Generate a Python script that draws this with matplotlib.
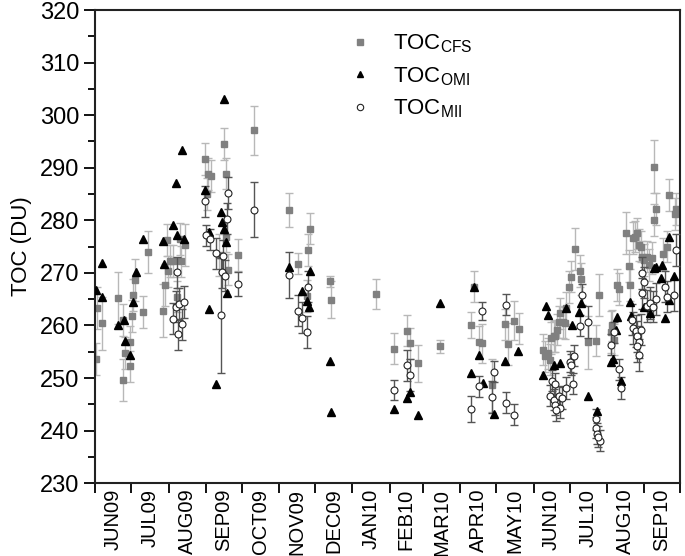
import numpy as np
import matplotlib
matplotlib.use("Agg")
import matplotlib.pyplot as plt
from matplotlib.lines import Line2D
from matplotlib.ticker import FixedLocator, MultipleLocator, NullFormatter

plt.rcParams['font.family'] = ['Liberation Sans', 'DejaVu Sans']
plt.rcParams['mathtext.default'] = 'regular'

# x values: days since 2009-06-01
cfs_day = [0.4, 1.5, 5.2, 19, 23.2, 23.2, 24.6, 28.8, 28.8, 30.2, 31, 33, 39.9, 43.5,
           56, 58, 59.4, 60.2, 62.1, 64.9, 68.2, 70.5, 71, 74.6,
           91.3, 92.7, 94.1, 96.1, 103, 107.4, 108.6, 108.8, 110.3, 119.1,
           132.4, 161.1, 169.1, 176.1, 177.2, 179.1, 195.6, 196.2, 233.7,
           249, 259.5, 261.7, 269, 287.3,
           315.1, 313.2, 319.8, 322.3, 330.4, 341.5, 348.8, 352.6, 343.4,
           372.6, 374.9, 376.8, 378.5, 379.6, 381.8, 383.2, 384.6, 386, 387.4, 389.6, 391.5, 392.4,
           394.9, 396.6, 399.9, 403.5, 404.9, 410.2, 417.2, 419.3,
           429.1, 430.5, 431.8, 434.7, 436, 442.4, 444.3, 445.7, 448, 449.9, 451.3, 452.7, 454.1, 455.5,
           456.9, 459.7, 461, 463.9, 465.2, 465.2, 466.6, 472.7, 476.4, 477.7, 482.5, 483.3]
cfs_toc = [253.6, 263.3, 260.4, 265.2, 249.7, 261, 254.8, 252.2, 256.9, 261.8, 265.8, 268.7, 262.6, 274,
           262.8, 267.7, 276.3, 270.3, 272.3, 272.3, 265.5, 276.4, 272.2, 275.3,
           291.7, 285, 288.8, 288.4, 273.4, 294.5, 288.9, 276.9, 270.6, 273.4,
           297.1, 281.9, 271.7, 265.6, 274.4, 278.4, 268.4, 264.9, 266,
           255.6, 259, 256.6, 252.8, 256,
           267.4, 260.1, 256.9, 256.6, 248.6, 260.2, 260.9, 259.4, 256.4,
           255.4, 254.1, 254.7, 253.5, 257.6, 257.9, 258, 259.2, 260.7, 262.3, 260.6, 260.5, 263.3,
           267.3, 269.3, 274.5, 270.4, 268.8, 256.8, 257.1, 265.8,
           258.7, 260, 257.3, 267.7, 266.9, 277.5, 271.3, 267.7, 276.6, 276.9, 277.5, 275.3, 275, 273.1,
           272.5, 273.1, 271.5, 272.8, 290.2, 280.1, 282.1, 273.6, 275, 284.8, 281.2, 282.1]
cfs_err = [3, 4, 5, 5, 4, 3, 3, 3, 3, 3, 3, 4, 3, 4,
           5, 4, 3, 3, 3, 3, 3, 3, 3, 4,
           3, 3, 3, 3, 4, 3, 3, 3, 3, 3,
           4.6, 3.2, 2, 3, 3, 3, 1, 3.5, 2.9,
           3, 3, 3, 3.5, 1.3,
           3, 2.5, 3, 3.7, 5, 3, 3.7, 3, 4,
           3, 3, 3, 3, 3, 3, 3, 3, 3, 3, 3, 3, 3,
           3, 3, 4, 3, 3, 5, 3, 4,
           4, 3, 3, 3, 3, 4, 3, 3, 3, 3, 3, 3, 3, 3,
           3, 3, 3, 3, 5, 3, 3, 3, 3, 3, 3, 3]

omi_day = [0.4, 5.2, 5.7, 19, 23.8, 24.6, 28.8, 31.5, 33.8, 39.9,
           56, 57.1, 64.9, 67.1, 68.2, 72.4, 74.1,
           91.3, 94.7, 94.9, 100.2, 107.4, 104.4, 105.3, 107.4, 108.8, 109.9,
           161.1, 172, 176.4, 177.5, 179.1, 195, 196.2,
           249, 259.5, 261.7, 269, 287.3,
           315.1, 319.2, 313.2, 322.6, 332.4, 341.5, 352.1,
           372.6, 375.7, 377.1, 381.8, 387.4, 392.1, 397.2, 403.2, 404.9, 410.2, 418,
           429.1, 431.3, 433.8, 434.7, 437.5, 445.3, 445.9,
           457.4, 461.8, 465.2, 466.6, 471.4, 472.2, 474.5, 477.8, 477.8, 482]
omi_toc = [266.8, 265.5, 271.8, 260.1, 261, 257.1, 254.3, 264.5, 270.1, 276.4,
           276.1, 271.7, 279.1, 287, 277.2, 293.4, 276.4,
           285.8, 277.7, 263.1, 248.9, 303, 281.5, 279.6, 278.3, 275.8, 266.1,
           271.2, 266.6, 264.7, 263.6, 270.4, 253.3, 243.6,
           244.1, 246.2, 247.4, 243, 264.2,
           267.4, 254.4, 251, 249.1, 243.1, 253.3, 255.2,
           250.5, 263.7, 262, 252.5, 252.9, 263.3, 260.1, 262.5, 264.2, 246.6, 243.8,
           253.1, 253.6, 259.2, 261.7, 249.5, 264.5, 261.8,
           263.5, 262.3, 270.9, 271.2, 269, 271.5, 261.4, 264.9, 276.8, 269.4]

mii_day = [64.9, 67.1, 68.2, 69, 69.8, 71.9, 74.1,
           91.3, 92.2, 95.5, 100.2, 104.4, 105.3, 106.6, 108, 109.4, 110.3, 119.1,
           132.4, 161.1, 169.1, 172, 176.1, 177.2,
           249, 259.5, 261.7,
           322.1, 319.2, 313.2, 330.4, 332.4, 342.3, 341.8, 348.8,
           380.5, 383.2, 379.1, 381.8, 386, 388.8, 383.2, 386.8, 384, 392.1, 395.1,
           396.3, 399.1, 398, 403.5, 405.5, 410.2, 417.4, 416.6, 418, 420.2, 418.8,
           429.1, 431.8, 436, 437.5, 447.3, 448.1, 450, 451.4, 452.7, 451.4, 452.7, 454.1, 455.5,
           456.9, 455.5, 459.7, 461.8, 464.6, 466.6, 474.5, 476.4, 482, 483.3]
mii_toc = [261.3, 263.6, 270.1, 258.3, 264.1, 260.2, 264.5,
           283.6, 277.2, 276.4, 273.7, 261.9, 270.1, 273.2, 269.5, 280.3, 285.2, 267.9,
           282, 269.6, 262.8, 261.5, 258.8, 267.4,
           247.8, 252.4, 250.6,
           262.8, 248.4, 244.1, 246.4, 251.2, 263.9, 245.3, 243,
           249.5, 248.9, 246.6, 245.9, 246.5, 246.2, 244.9, 244.3, 243.9, 248.1, 253.1,
           252.5, 254.2, 248.9, 259.9, 265.8, 260.7, 242.2, 240.5, 239.4, 238.1, 238.8,
           256.3, 258.7, 251.7, 248.1, 261.1, 259.5, 258.9, 257.9, 256.9, 256, 254.4, 259.2, 270,
           268.2, 266.1, 263.7, 264.3, 263.6, 265, 267.4, 265.5, 265.8, 274.4]
mii_err = [3, 3, 3, 3, 3, 3, 3,
           3, 2, 2, 3, 11, 3, 3, 3, 3, 3, 2.3,
           5.2, 4.4, 3, 3, 3, 3,
           1.9, 3, 3,
           1.7, 2, 2.4, 3, 2, 2, 2, 2,
           2, 2, 2, 2, 2, 2, 2, 2, 2, 2, 2,
           2, 2, 2, 2, 2, 3, 2, 2, 2, 2, 2,
           2, 2, 2, 2, 3, 3, 3, 3, 3, 3, 3, 3, 3,
           3, 3, 3, 3, 3, 3, 3, 3, 3, 3]

month_labels = ['JUN09', 'JUL09', 'AUG09', 'SEP09', 'OCT09', 'NOV09', 'DEC09', 'JAN10',
                'FEB10', 'MAR10', 'APR10', 'MAY10', 'JUN10', 'JUL10', 'AUG10', 'SEP10']

start = np.datetime64('2009-06-01')
months = np.arange(np.datetime64('2009-06'), np.datetime64('2010-11'), dtype='datetime64[M]')
bounds = (months.astype('datetime64[D]') - start).astype(float)
centers = (bounds[:-1] + bounds[1:]) / 2

fig = plt.figure(figsize=(6.85, 5.56), dpi=100)
ax = fig.add_axes([0.1394, 0.131, 0.8533, 0.851])

ax.errorbar(cfs_day, cfs_toc, yerr=cfs_err, fmt='s', color='#808080', ms=4.5,
            mec='#808080', ecolor='#b8b8b8', elinewidth=1.0, capsize=3, capthick=1.0,
            zorder=2)
ax.errorbar(mii_day, mii_toc, yerr=mii_err, fmt='none', ecolor='#555555',
            elinewidth=1.0, capsize=3, capthick=1.0, zorder=3)
ax.plot(omi_day, omi_toc, '^', color='black', ms=5.2, ls='none', zorder=4)
ax.plot(mii_day, mii_toc, 'o', mfc='white', mec='#222222', mew=0.8, ms=5.0, ls='none', zorder=5)

ax.set_xlim(bounds[0], bounds[-1])
ax.set_ylim(230, 320)
ax.yaxis.set_major_locator(MultipleLocator(10))
ax.yaxis.set_minor_locator(MultipleLocator(5))
ax.xaxis.set_major_locator(FixedLocator(bounds))
ax.xaxis.set_major_formatter(NullFormatter())
ax.xaxis.set_minor_locator(FixedLocator(centers))
ax.set_xticklabels(month_labels, minor=True, rotation=90, fontsize=14.5)
ax.tick_params(axis='x', which='minor', length=0, pad=4)
ax.tick_params(axis='x', which='major', direction='out', length=7, width=1.3)
ax.tick_params(axis='y', which='major', direction='out', length=8, width=1.3, labelsize=17)
ax.tick_params(axis='y', which='minor', direction='out', length=5, width=1.3)
for s in ax.spines.values():
    s.set_linewidth(1.5)
    s.set_color('#222222')

ax.set_ylabel('TOC (DU)', fontsize=16, labelpad=6)

handles = [
    Line2D([], [], marker='s', color='#808080', ls='none', ms=4.5),
    Line2D([], [], marker='^', color='black', ls='none', ms=5.0),
    Line2D([], [], marker='o', mfc='white', mec='#222222', mew=0.8, ls='none', ms=4.6),
]
labels = ['TOC$_{CFS}$', 'TOC$_{OMI}$', 'TOC$_{MII}$']
leg = ax.legend(handles, labels, loc='upper left', bbox_to_anchor=(0.395, 0.995), frameon=False,
                fontsize=16, handletextpad=0.9, labelspacing=0.45, handlelength=1.2)

fig.savefig('out.png', dpi=100)
